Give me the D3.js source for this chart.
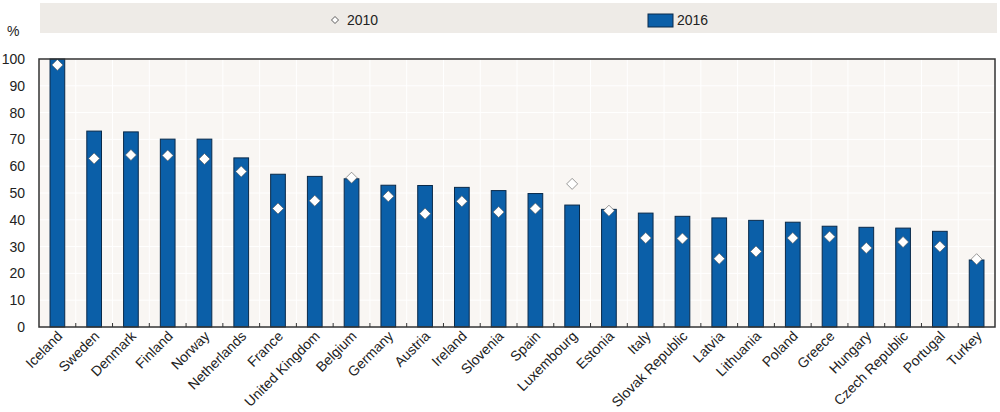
<!DOCTYPE html>
<html><head><meta charset="utf-8">
<script src="https://cdn.jsdelivr.net/npm/d3@7"></script>
<style>body{margin:0;background:#fff}svg{display:block;font-family:"Liberation Sans",Arial,sans-serif}</style>
</head><body><svg id="c" width="1000" height="412"></svg>
<script>
const countries = ["Iceland","Sweden","Denmark","Finland","Norway","Netherlands","France","United Kingdom","Belgium","Germany","Austria","Ireland","Slovenia","Spain","Luxembourg","Estonia","Italy","Slovak Republic","Latvia","Lithuania","Poland","Greece","Hungary","Czech Republic","Portugal","Turkey"];
const values2016 = [100,73.1,72.8,70.1,70.1,63.1,57.0,56.2,55.3,52.9,52.8,52.1,50.9,49.8,45.5,43.9,42.5,41.3,40.7,39.8,39.1,37.6,37.2,36.9,35.7,25.0];
const values2010 = [97.8,62.9,64.2,64.0,62.7,58.0,44.2,47.1,55.7,48.8,42.3,46.9,42.9,44.2,53.4,43.4,33.2,33.0,25.5,28.2,33.2,33.7,29.5,31.7,30.0,25.3];
const yTicks = [0,10,20,30,40,50,60,70,80,90,100];
const seriesNames = ["2010","2016"];

const svg = d3.select("#c");
const m = {l:39, r:995, t:59, b:327};
const x = d3.scaleBand().domain(countries).range([m.l, m.r]).paddingInner(0.6).paddingOuter(0.3);
const xb = d3.scaleBand().domain(countries).range([m.l, m.r]);
const y = d3.scaleLinear().domain([0,100]).range([m.b, m.t]);
const diamond = r => `M0,${-r}L${r},0L0,${r}L${-r},0Z`;

// legend
svg.append("rect").attr("x",40).attr("y",3).attr("width",957).attr("height",30).attr("fill","#eeebe7");
svg.append("path").attr("d", diamond(3.5)).attr("transform","translate(335,20)")
  .attr("fill","#fff").attr("stroke","#333").attr("stroke-width",0.8);
svg.append("text").attr("x",347).attr("y",25).attr("font-size",14).attr("fill","#222").text(seriesNames[0]);
svg.append("rect").attr("x",648).attr("y",14).attr("width",25).attr("height",13).attr("fill","#0b5fa8").attr("stroke","#0a2a4a").attr("stroke-width",1);
svg.append("text").attr("x",677).attr("y",25).attr("font-size",14).attr("fill","#222").text(seriesNames[1]);

// % label
svg.append("text").attr("x",7).attr("y",36).attr("font-size",14).attr("fill","#222").text("%");

// plot background
svg.append("rect").attr("x",m.l).attr("y",m.t).attr("width",m.r-m.l).attr("height",m.b-m.t).attr("fill","#f9f6f3");
// horizontal grid
svg.append("g").selectAll("line").data(yTicks).join("line")
  .attr("x1",m.l).attr("x2",m.r).attr("y1",d=>y(d)).attr("y2",d=>y(d)).attr("stroke","#fff").attr("stroke-width",1);
// vertical grid at band boundaries
svg.append("g").selectAll("line").data(countries.slice(1)).join("line")
  .attr("x1",d=>xb(d)).attr("x2",d=>xb(d)).attr("y1",m.t).attr("y2",m.b).attr("stroke","#fff").attr("stroke-width",1);

// bars
svg.append("g").selectAll("rect").data(countries).join("rect")
  .attr("x",d=>x(d)).attr("width",x.bandwidth())
  .attr("y",(d,i)=>y(values2016[i])).attr("height",(d,i)=>y(0)-y(values2016[i]))
  .attr("fill","#0b5fa8").attr("stroke","#0a2a4a").attr("stroke-width",1);

// diamonds
svg.append("g").selectAll("path").data(countries).join("path")
  .attr("d", diamond(5.5))
  .attr("transform",(d,i)=>`translate(${xb(d)+xb.bandwidth()/2},${y(values2010[i])})`)
  .attr("fill","#fff").attr("stroke","#555").attr("stroke-width",0.6);

// frame
svg.append("rect").attr("x",m.l).attr("y",m.t).attr("width",m.r-m.l).attr("height",m.b-m.t)
  .attr("fill","none").attr("stroke","#333").attr("stroke-width",1.5);

// x ticks (inside, at band boundaries)
svg.append("g").selectAll("line").data(countries.slice(1)).join("line")
  .attr("x1",d=>xb(d)).attr("x2",d=>xb(d)).attr("y1",m.b).attr("y2",m.b-4).attr("stroke","#333").attr("stroke-width",1);

// y axis labels
svg.append("g").selectAll("text").data(yTicks).join("text")
  .attr("x",25).attr("y",d=>y(d)+5).attr("text-anchor","end").attr("font-size",14).attr("fill","#222").text(d=>d);

// x labels
svg.append("g").selectAll("text").data(countries).join("text")
  .attr("transform",d=>`translate(${xb(d)+xb.bandwidth()/2+6},${m.b+10}) rotate(-45)`)
  .attr("text-anchor","end").attr("font-size",14).attr("fill","#222").text(d=>d);
</script></body></html>
